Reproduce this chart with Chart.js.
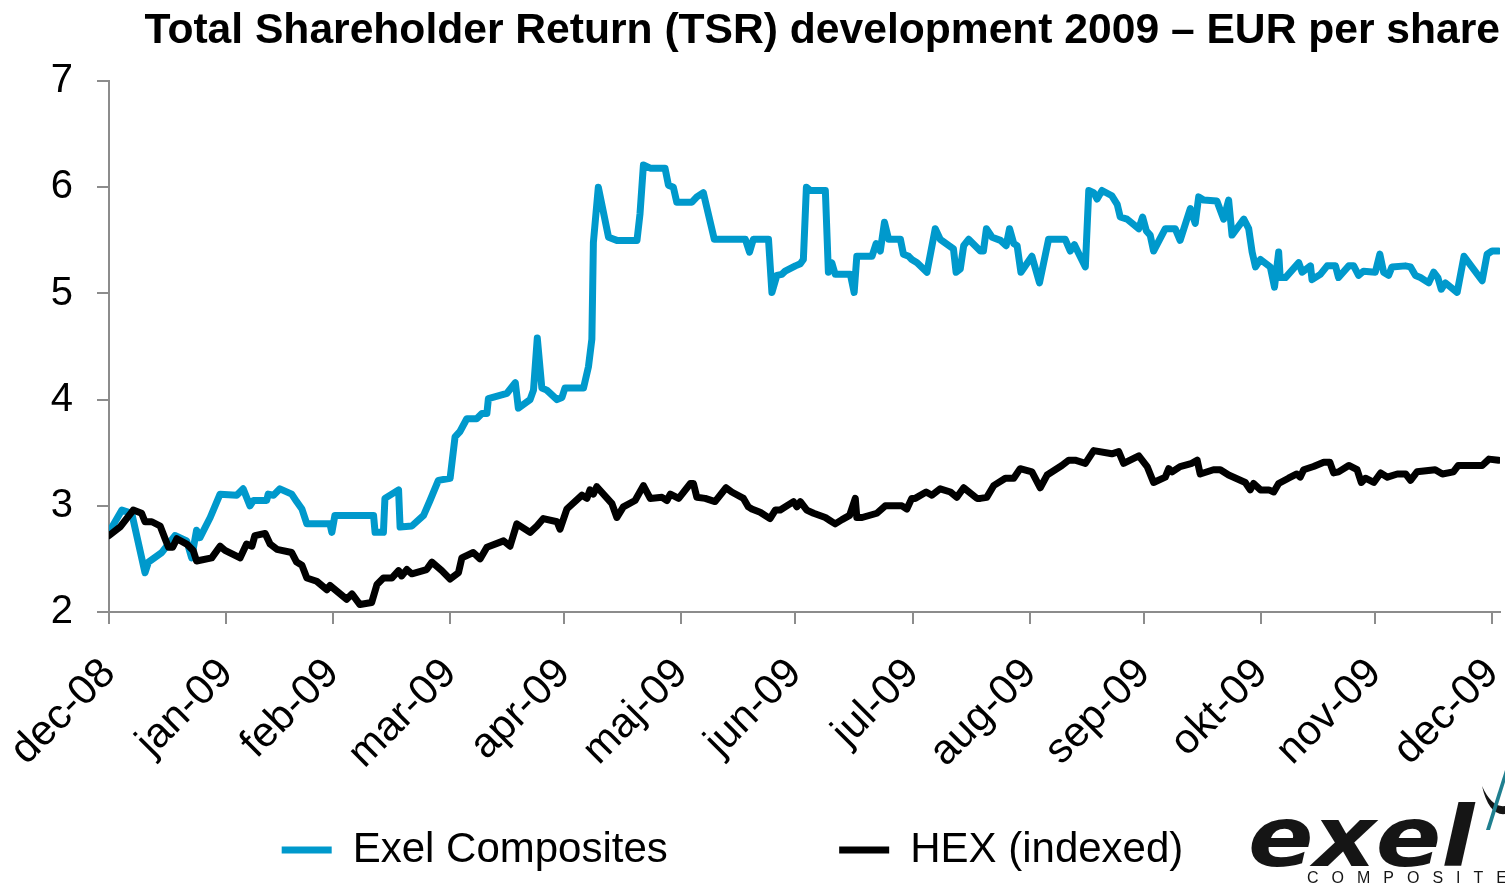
<!DOCTYPE html>
<html>
<head>
<meta charset="utf-8">
<title>TSR development 2009</title>
<script src="https://cdn.jsdelivr.net/npm/chart.js@4.4.1/dist/chart.umd.min.js"></script>
<style>
  html, body { margin: 0; padding: 0; background: #fff; }
  #wrap { width: 1505px; height: 886px; position: relative; }
</style>
</head>
<body>
<div id="wrap"><canvas id="tsr-chart"></canvas></div>
<script>
// x values are days counted from 31 Dec 2008, ticks sit on month ends
const monthTicks = [0, 31, 59, 90, 120, 151, 181, 212, 243, 273, 304, 334, 365];
const monthLabels = ["dec-08", "jan-09", "feb-09", "mar-09", "apr-09", "maj-09", "jun-09",
  "jul-09", "aug-09", "sep-09", "okt-09", "nov-09", "dec-09"];

const exelDays = [0, 3.4, 6.0, 9.5, 10.4, 13.9, 17.4, 20.5, 21.8, 23.1, 24.0, 26.7, 29.3, 33.7, 35.4,
  37.2, 38.1, 41.6, 42.0, 43.4, 45.1, 48.2, 49.5, 50.9, 52.2, 58.3, 58.8, 59.6, 69.8, 70.2, 72.4, 72.8,
  76.4, 76.8, 79.9, 83.0, 84.7, 86.9, 90.0, 91.3, 92.6, 94.4, 97.0, 98.4, 99.7, 100.1, 105.0, 107.2,
  108.0, 111.1, 112.0, 113.0, 114.2, 115.5, 118.2, 119.5, 120.3, 125.2, 126.5, 127.4, 127.8, 129.1,
  131.8, 134.0, 139.3, 140.1, 141.0, 142.8, 146.7, 147.6, 148.9, 149.8, 153.8, 155.1, 156.8, 159.7,
  167.9, 169.0, 170.0, 174.0, 174.9, 176.2, 177.5, 178.4, 181.1, 182.4, 183.2, 184.0, 185.0, 189.0,
  189.8, 190.7, 191.6, 195.6, 196.6, 197.3, 201.3, 202.4, 203.5, 204.6, 205.7, 208.8, 209.6, 211.0,
  211.8, 213.2, 215.8, 218.0, 219.3, 222.8, 223.5, 224.6, 225.5, 226.8, 229.9, 230.7, 231.5, 233.0,
  235.2, 236.7, 237.6, 238.7, 239.6, 240.6, 243.5, 245.5, 247.9, 252.3, 253.6, 254.7, 257.6, 258.5,
  259.8, 260.7, 262.0, 264.6, 266.0, 266.8, 268.6, 271.7, 272.7, 273.7, 274.7, 275.6, 278.7, 281.3,
  282.6, 285.3, 286.6, 287.5, 288.8, 292.3, 294.1, 295.4, 296.3, 299.4, 300.7, 301.6, 302.5, 303.8,
  306.4, 307.5, 308.6, 309.0, 310.4, 313.9, 314.8, 317.0, 317.4, 319.6, 321.4, 323.6, 324.4, 327.1,
  328.4, 329.7, 331.0, 334.1, 335.3, 336.3, 337.6, 338.5, 342.0, 343.4, 344.7, 346.0, 348.2, 349.5,
  350.6, 351.5, 352.6, 355.7, 357.5, 362.3, 363.6, 364.9, 366.6];
const exelValues = [2.75, 2.96, 2.93, 2.37, 2.47, 2.56, 2.72, 2.67, 2.51, 2.77, 2.70, 2.89, 3.11, 3.10,
  3.16, 3.00, 3.05, 3.05, 3.11, 3.10, 3.16, 3.11, 3.04, 2.97, 2.83, 2.83, 2.75, 2.91, 2.91, 2.75, 2.75,
  3.07, 3.15, 2.80, 2.81, 2.91, 3.05, 3.24, 3.26, 3.65, 3.70, 3.82, 3.82, 3.87, 3.87, 4.01, 4.06, 4.16,
  3.92, 4.00, 4.09, 4.58, 4.11, 4.09, 4.00, 4.02, 4.11, 4.11, 4.31, 4.57, 5.48, 6.00, 5.53, 5.50, 5.50,
  5.75, 6.21, 6.18, 6.18, 6.02, 6.00, 5.86, 5.86, 5.91, 5.95, 5.51, 5.51, 5.39, 5.51, 5.51, 5.01, 5.17,
  5.18, 5.21, 5.26, 5.28, 5.32, 6.00, 5.97, 5.97, 5.20, 5.29, 5.18, 5.18, 5.01, 5.35, 5.35, 5.47, 5.40,
  5.67, 5.51, 5.51, 5.37, 5.35, 5.32, 5.29, 5.20, 5.61, 5.51, 5.42, 5.20, 5.23, 5.45, 5.51, 5.40, 5.40,
  5.61, 5.53, 5.50, 5.45, 5.61, 5.47, 5.45, 5.20, 5.35, 5.10, 5.51, 5.51, 5.40, 5.46, 5.25, 5.97, 5.95,
  5.89, 5.97, 5.92, 5.84, 5.72, 5.70, 5.61, 5.72, 5.59, 5.55, 5.40, 5.61, 5.61, 5.50, 5.80, 5.66, 5.91,
  5.88, 5.87, 5.70, 5.88, 5.55, 5.70, 5.61, 5.39, 5.25, 5.32, 5.25, 5.06, 5.39, 5.15, 5.15, 5.29, 5.20,
  5.26, 5.13, 5.18, 5.26, 5.26, 5.15, 5.26, 5.26, 5.17, 5.21, 5.20, 5.37, 5.20, 5.17, 5.25, 5.26, 5.25,
  5.17, 5.15, 5.10, 5.20, 5.15, 5.04, 5.10, 5.01, 5.35, 5.12, 5.37, 5.40, 5.40];

const hexDays = [0, 2.9, 6.4, 8.6, 9.5, 11.3, 13.5, 14.8, 15.7, 16.8, 17.9, 20.5, 22.2, 23.1, 27.1,
  29.3, 30.6, 34.6, 36.3, 37.7, 38.5, 41.2, 42.5, 44.3, 48.2, 49.5, 50.9, 52.2, 54.8, 57.5, 58.3, 62.7,
  64.1, 66.2, 69.3, 70.7, 72.4, 74.6, 76.4, 77.2, 78.6, 79.9, 83.8, 85.2, 87.8, 90.0, 92.2, 93.1, 96.1,
  97.9, 99.7, 104.1, 105.8, 107.6, 111.1, 112.9, 114.6, 118.2, 119.0, 120.8, 124.8, 126.1, 126.9,
  127.8, 128.7, 132.7, 134.0, 135.7, 138.8, 141.0, 142.8, 145.9, 147.2, 148.1, 150.3, 153.4, 154.2,
  155.1, 157.3, 159.9, 162.8, 164.3, 167.4, 168.7, 169.6, 171.8, 174.4, 175.8, 177.1, 180.6, 181.5,
  182.4, 184.1, 185.9, 189.0, 190.3, 191.6, 193.4, 195.4, 196.9, 197.3, 198.7, 202.6, 204.8, 209.2,
  210.5, 211.8, 212.7, 215.6, 217.1, 219.3, 222.0, 223.7, 225.5, 229.0, 229.9, 231.6, 233.4, 236.5,
  238.7, 240.4, 243.5, 245.7, 247.5, 251.4, 253.2, 254.9, 257.6, 259.8, 264.6, 266.4, 267.7, 271.7,
  273.9, 275.6, 278.7, 279.6, 280.5, 282.6, 285.7, 287.1, 287.9, 291.4, 293.2, 295.4, 299.8, 301.1,
  302.0, 303.8, 306.0, 307.3, 308.6, 311.2, 313.4, 314.3, 315.2, 317.8, 320.5, 322.1, 323.1, 324.4,
  327.1, 329.3, 330.4, 331.5, 333.7, 335.5, 337.3, 339.9, 342.1, 343.4, 345.1, 349.9, 351.8, 354.7,
  356.0, 362.3, 364.1, 366.6];
const hexValues = [2.72, 2.80, 2.96, 2.93, 2.85, 2.85, 2.81, 2.69, 2.61, 2.61, 2.69, 2.64, 2.58, 2.48,
  2.51, 2.62, 2.58, 2.51, 2.64, 2.62, 2.72, 2.74, 2.64, 2.59, 2.56, 2.47, 2.44, 2.32, 2.29, 2.21, 2.25,
  2.12, 2.17, 2.07, 2.09, 2.26, 2.32, 2.32, 2.39, 2.34, 2.40, 2.36, 2.40, 2.47, 2.39, 2.31, 2.37, 2.51,
  2.56, 2.50, 2.61, 2.67, 2.62, 2.83, 2.75, 2.81, 2.88, 2.85, 2.78, 2.97, 3.10, 3.07, 3.15, 3.11, 3.18,
  3.02, 2.89, 2.99, 3.05, 3.19, 3.07, 3.08, 3.05, 3.11, 3.07, 3.21, 3.21, 3.08, 3.07, 3.04, 3.17, 3.13,
  3.07, 2.99, 2.97, 2.94, 2.88, 2.96, 2.96, 3.04, 2.99, 3.04, 2.96, 2.93, 2.89, 2.86, 2.83, 2.87, 2.91,
  3.07, 2.89, 2.89, 2.93, 3.00, 3.00, 2.97, 3.07, 3.07, 3.13, 3.10, 3.16, 3.13, 3.08, 3.17, 3.07, 3.07,
  3.08, 3.19, 3.26, 3.26, 3.35, 3.32, 3.17, 3.29, 3.38, 3.43, 3.43, 3.40, 3.52, 3.49, 3.51, 3.40, 3.47,
  3.37, 3.22, 3.27, 3.35, 3.32, 3.37, 3.40, 3.43, 3.30, 3.34, 3.34, 3.29, 3.22, 3.15, 3.21, 3.15, 3.15,
  3.13, 3.21, 3.26, 3.30, 3.27, 3.34, 3.37, 3.41, 3.41, 3.31, 3.32, 3.38, 3.34, 3.22, 3.26, 3.22, 3.31,
  3.27, 3.30, 3.30, 3.24, 3.32, 3.34, 3.30, 3.32, 3.38, 3.38, 3.44, 3.43];

const FONT = "'Liberation Sans', Arial, Helvetica, sans-serif";
const AXIS_GREY = "#8c8c8c";
const EXEL_BLUE = "#0099cc";

function toPoints(days, values) {
  return days.map((d, i) => ({ x: d, y: values[i] }));
}

// company logo in the lower right corner
const logoPlugin = {
  id: "exelLogo",
  afterDraw(chart) {
    const { ctx } = chart;
    ctx.save();
    ctx.fillStyle = "#151515";
    ctx.font = "bold italic 84px 'DejaVu Sans'";
    ctx.textBaseline = "alphabetic";
    ctx.translate(1248, 866);
    ctx.scale(1.15, 1);
    ctx.fillText("exel", 0, 0);
    ctx.restore();

    ctx.save();
    ctx.fillStyle = "#151515";
    ctx.font = "16px " + FONT;
    let x = 1307;
    for (const ch of "COMPOSITES") {
      ctx.fillText(ch, x, 879);
      x += ctx.measureText(ch).width + 13;
    }
    // swoosh
    ctx.beginPath();
    ctx.moveTo(1482, 786);
    ctx.quadraticCurveTo(1489, 816, 1505, 814);
    ctx.lineTo(1505, 806);
    ctx.quadraticCurveTo(1492, 808, 1482, 786);
    ctx.fill();
    ctx.fillStyle = "#1f7f8f";
    ctx.beginPath();
    ctx.moveTo(1486, 830);
    ctx.lineTo(1505, 770);
    ctx.lineTo(1505, 782);
    ctx.lineTo(1490, 830);
    ctx.closePath();
    ctx.fill();
    ctx.restore();
  },
};

function axisStyle() {
  return {
    grid: { drawOnChartArea: false, color: AXIS_GREY, lineWidth: 2, tickLength: 12 },
    border: { color: AXIS_GREY, width: 2 },
  };
}

const ctx = document.getElementById("tsr-chart").getContext("2d");
new Chart(ctx, {
  type: "line",
  data: {
    datasets: [
      {
        label: "Exel Composites",
        data: toPoints(exelDays, exelValues),
        borderColor: EXEL_BLUE,
        backgroundColor: EXEL_BLUE,
        borderWidth: 7,
        pointRadius: 0,
        tension: 0,
        order: 1,
      },
      {
        label: "HEX (indexed)",
        data: toPoints(hexDays, hexValues),
        borderColor: "#000000",
        backgroundColor: "#000000",
        borderWidth: 7,
        pointRadius: 0,
        tension: 0,
        order: 0,
      },
    ],
  },
  options: {
    responsive: true,
    maintainAspectRatio: false,
    animation: false,
    layout: { padding: { left: 0, right: 5, top: 0, bottom: 5 } },
    elements: { line: { borderJoinStyle: "round", borderCapStyle: "round" } },
    plugins: {
      title: {
        display: true,
        text: "Total Shareholder Return (TSR) development 2009 \u2013 EUR per share",
        align: "end",
        color: "#000",
        font: { family: FONT, size: 42.6, weight: "bold" },
        padding: { top: 6, bottom: 24 },
      },
      legend: {
        position: "bottom",
        labels: {
          color: "#000",
          font: { family: FONT, size: 42 },
          boxWidth: 50,
          boxHeight: 7,
          padding: 8,
          generateLabels: (chart) =>
            chart.data.datasets.map((ds, i) => ({
              text: ds.label + "\u00a0".repeat(i === 0 ? 14 : 3),
              fillStyle: ds.borderColor,
              strokeStyle: ds.borderColor,
              lineWidth: 0,
              fontColor: "#000",
              hidden: !chart.isDatasetVisible(i),
              datasetIndex: i,
            })),
        },
      },
      tooltip: { enabled: false },
    },
    scales: {
      x: {
        type: "linear",
        min: 0,
        max: 367,
        ...axisStyle(),
        afterBuildTicks: (axis) => {
          axis.ticks = monthTicks.map((v) => ({ value: v }));
        },
        afterFit: (axis) => {
          axis.height = 209;
          axis.paddingLeft = 0;
          axis.paddingRight = 0;
        },
        ticks: {
          autoSkip: false,
          minRotation: 45,
          maxRotation: 45,
          padding: 25,
          color: "#000",
          font: { family: FONT, size: 42 },
          callback: (value) => monthLabels[monthTicks.indexOf(value)],
        },
      },
      y: {
        min: 2,
        max: 7,
        ...axisStyle(),
        afterFit: (axis) => {
          axis.width = 109;
        },
        ticks: {
          stepSize: 1,
          padding: 24,
          color: "#000",
          font: { family: FONT, size: 40 },
        },
      },
    },
  },
  plugins: [logoPlugin],
});
</script>
</body>
</html>
